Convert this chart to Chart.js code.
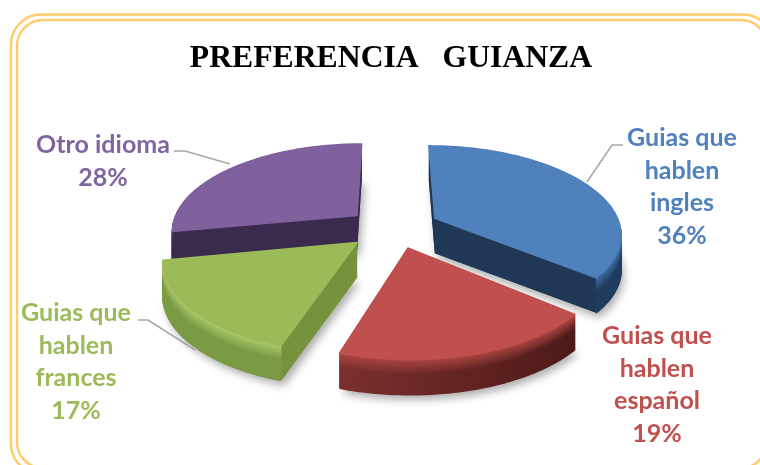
<!DOCTYPE html>
<html><head><meta charset="utf-8">
<style>html,body{margin:0;padding:0;background:#fff}canvas{display:block}</style>
<script src="https://cdn.jsdelivr.net/npm/chart.js@4/dist/chart.umd.min.js"></script>
</head><body>
<canvas id="c" width="760" height="465"></canvas>
<script>
const chartTitle = 'PREFERENCIA   GUIANZA';
const categories = ['Guias que hablen ingles', 'Guias que hablen español', 'Guias que hablen frances', 'Otro idioma'];
const categoryLines = [['Guias que','hablen','ingles'], ['Guias que','hablen','español'], ['Guias que','hablen','frances'], ['Otro idioma']];
const values = [36, 19, 17, 28];
const sliceColors = ['#4f81bd', '#c0504d', '#9bbb59', '#7f619e'];
const labelColors = ['#4f81bd', '#c0504d', '#9bbb59', '#8064a2'];
const explode = [0.265, 0.22, 0.23, 0.25];

// View of the tilted pie
const view = {cx: 390, cy: 228, rx: 186, ry: 87, k: 0.16, h: 35};
const nudgeX = [1, 6, 0, 2];
const nudgeY = [0, 1, 1, 1];
const drawOrder = [3, 0, 2, 1];
const sideColor = ['#1f3856', '#5a201d', '#76923c', '#3a2a4e'];
const wallTop = ['#3f6ca3', '#a8433f', '#a9c96a', '#4a3763'];
const wallLeft = ['#1f3856', '#7c302d', '#7b9a44', '#3a2a4e'];
const wallRight = ['#1f3c60', '#4c1a18', '#7b9a44', '#3a2a4e'];
const labelX = [682, 657, 76, 103];
const labelY = [138, 336, 313, 145];
const lineGap = 32.7;
const leaders = [[[587,182],[612,145],[623,145]], [], [[138,320],[148,320],[195,350]], [[174,151],[185,151],[230,164]]];

function proj(X, Y, z) {
  const w = 1 - view.k * Y;
  return [view.cx + view.rx * X / w, view.cy + view.ry * Y / w + z * view.h];
}
function mix(a, b, t) {
  const p = s => [1,3,5].map(i => parseInt(s.substr(i,2),16));
  const A = p(a), B = p(b);
  return 'rgb(' + A.map((v,i) => Math.round(v + (B[i]-v)*t)).join(',') + ')';
}
function sliceGeom(el, i) {
  const a0 = el.startAngle, a1 = el.endAngle, mid = (a0 + a1) / 2;
  const off = el.options.offset / 200;
  const ox = off * Math.cos(mid), oy = off * Math.sin(mid);
  const rim = [];
  const n = 80;
  for (let j = 0; j <= n; j++) {
    const a = a0 + (a1 - a0) * j / n;
    rim.push([ox + Math.cos(a), oy + Math.sin(a)]);
  }
  return {apex: [ox, oy], rim};
}
function path(ctx, pts) {
  ctx.beginPath();
  pts.forEach((p, i) => i ? ctx.lineTo(p[0], p[1]) : ctx.moveTo(p[0], p[1]));
  ctx.closePath();
}
const at = (pts, z) => pts.map(p => proj(p[0], p[1], z));

const pie3d = {
  id: 'pie3d',
  beforeDraw(chart) {
    const ctx = chart.ctx;
    ctx.save();
    ctx.fillStyle = '#fff';
    ctx.fillRect(0, 0, chart.width, chart.height);
    ctx.strokeStyle = '#ffcb6b';
    ctx.lineWidth = 2.4;
    [[11, 14.5, 773, 474, 30], [17, 20, 767, 468, 26]].forEach(([l, t, r, b, rad]) => {
      ctx.beginPath();
      ctx.roundRect(l, t, r - l, b - t, rad);
      ctx.stroke();
    });
    ctx.restore();
  },
  beforeDatasetsDraw(chart) {
    const ctx = chart.ctx;
    const arcs = chart.getDatasetMeta(0).data;
    ctx.save();
    drawOrder.forEach(i => {
      const g = sliceGeom(arcs[i], i);
      const top = [g.apex].concat(g.rim);
      const topPts = at(top, 0), botPts = at(top, 1);
      ctx.save();
      ctx.translate(nudgeX[i], nudgeY[i]);
      // soft shadow
      ctx.save();
      ctx.shadowColor = 'rgba(0,0,0,0.33)';
      ctx.shadowBlur = 9;
      ctx.shadowOffsetX = 3;
      ctx.shadowOffsetY = 5;
      ctx.fillStyle = sideColor[i];
      path(ctx, botPts); ctx.fill();
      ctx.restore();
      // radial walls
      ctx.fillStyle = sideColor[i];
      [g.rim[0], g.rim[g.rim.length - 1]].forEach(e => {
        const a = proj(g.apex[0], g.apex[1], 0), b = proj(e[0], e[1], 0);
        const c = proj(e[0], e[1], 1), d = proj(g.apex[0], g.apex[1], 1);
        path(ctx, [a, b, c, d]); ctx.fill();
      });
      // outer wall, stacked from bottom to rim
      const xs = at(g.rim, 0).map(p => p[0]);
      ctx.lineJoin = 'round';
      const steps = 40;
      for (let s = steps; s >= 1; s--) {
        const t = s / steps;
        const f = Math.min(1, t / 0.4);
        const grad = ctx.createLinearGradient(Math.min(...xs), 0, Math.max(...xs), 0);
        grad.addColorStop(0, mix(wallTop[i], wallLeft[i], f));
        grad.addColorStop(1, mix(wallTop[i], wallRight[i], f));
        ctx.strokeStyle = grad;
        ctx.lineWidth = 1.6;
        const pts = at(g.rim, t);
        ctx.beginPath();
        pts.forEach((p, j) => j ? ctx.lineTo(p[0], p[1]) : ctx.moveTo(p[0], p[1]));
        ctx.stroke();
      }
      // top face
      ctx.fillStyle = sliceColors[i];
      ctx.strokeStyle = sliceColors[i];
      ctx.lineWidth = 1.4;
      path(ctx, topPts); ctx.fill(); ctx.stroke();
      ctx.restore();
    });
    // leaders
    ctx.strokeStyle = '#a6a6a6';
    ctx.lineWidth = 1.5;
    leaders.forEach(l => {
      if (!l.length) return;
      ctx.beginPath();
      l.forEach((p, j) => j ? ctx.lineTo(p[0], p[1]) : ctx.moveTo(p[0], p[1]));
      ctx.stroke();
    });
    // labels
    ctx.font = 'bold 25px Lato';
    ctx.textAlign = 'center';
    ctx.textBaseline = 'middle';
    categories.forEach((c, i) => {
      const total = values.reduce((a, b) => a + b, 0);
      const lines = categoryLines[i].concat([Math.round(values[i] / total * 100) + '%']);
      ctx.fillStyle = labelColors[i];
      lines.forEach((t, j) => ctx.fillText(t, labelX[i], labelY[i] + j * lineGap));
    });
    ctx.restore();
    return false;
  }
};

new Chart(document.getElementById('c'), {
  type: 'pie',
  plugins: [pie3d],
  data: {
    labels: categories,
    datasets: [{
      data: values,
      backgroundColor: sliceColors,
      borderWidth: 0,
      offset: explode.map(e => e * 200)
    }]
  },
  options: {
    responsive: false,
    animation: false,
    layout: {padding: {left: 22}},
    plugins: {
      legend: {display: false},
      tooltip: {enabled: false},
      title: {
        display: true,
        text: chartTitle,
        color: '#000',
        font: {family: '"Liberation Serif"', size: 31.7, weight: 'bold'},
        padding: {top: 40, bottom: 10}
      }
    }
  }
});
</script>
</body></html>
